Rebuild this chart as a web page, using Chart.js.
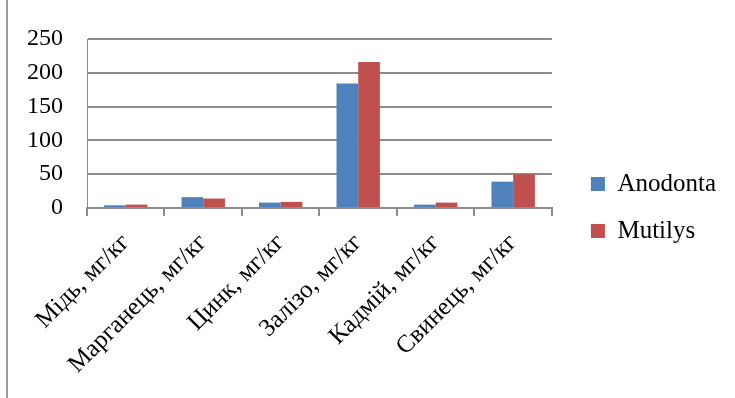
<!DOCTYPE html>
<html lang="uk">
<head>
<meta charset="UTF-8">
<title>Метали</title>
<script src="https://cdn.jsdelivr.net/npm/chart.js"></script>
<style>
    body {
        margin: 0;
        background: #fff;
    }
    #wrap {
        position: relative;
        width: 735px;
        height: 398px;
    }
    #frame {
        position: absolute;
        left: 6px;
        top: 0;
        width: 2px;
        height: 398px;
        background: #9a9a9a;
    }
</style>
</head>
<body>

<div id="wrap">
    <div id="frame"></div>
    <canvas id="myBarChart" width="735" height="398"></canvas>
</div>

<script>
// data
var categories = ['Мідь, мг/кг', 'Марганець, мг/кг', 'Цинк, мг/кг', 'Залізо, мг/кг', 'Кадмій, мг/кг', 'Свинець, мг/кг'];
var seriesNames = ['Anodonta', 'Mutilys'];
var anodonta = [4, 16, 8, 184, 5, 39];
var mutilys = [5, 14, 9, 216, 8, 50];
var yTicks = [0, 50, 100, 150, 200, 250];

var gridColor = '#8c8c8c';
var fontFamily = '"Liberation Serif", "Times New Roman", serif';

var ctx = document.getElementById('myBarChart').getContext('2d');
var myBarChart = new Chart(ctx, {
    type: 'bar',
    data: {
        labels: categories,
        datasets: [{
            label: seriesNames[0],
            data: anodonta,
            backgroundColor: '#4f81bd',
            categoryPercentage: 0.56,
            barPercentage: 1.0
        }, {
            label: seriesNames[1],
            data: mutilys,
            backgroundColor: '#c0504d',
            categoryPercentage: 0.56,
            barPercentage: 1.0
        }]
    },
    options: {
        responsive: false,
        animation: false,
        layout: {
            padding: { left: 3, top: 39, right: 9, bottom: 22 }
        },
        plugins: {
            tooltip: { enabled: false },
            legend: {
                position: 'right',
                maxWidth: 200,
                labels: {
                    boxWidth: 14,
                    boxHeight: 14,
                    padding: 22,
                    color: '#000',
                    font: { family: fontFamily, size: 25 }
                }
            }
        },
        scales: {
            x: {
                grid: {
                    offset: true,
                    drawOnChartArea: false,
                    drawTicks: true,
                    tickLength: 8,
                    color: gridColor,
                    lineWidth: 2
                },
                border: { color: gridColor, width: 2 },
                ticks: {
                    minRotation: 45,
                    maxRotation: 45,
                    padding: 12,
                    color: '#000',
                    font: { family: fontFamily, size: 25 }
                },
                afterFit: function (scale) {
                    scale.height = 168;
                }
            },
            y: {
                min: 0,
                max: 250,
                afterBuildTicks: function (scale) {
                    scale.ticks = yTicks.map(function (v) { return { value: v }; });
                },
                grid: {
                    drawTicks: false,
                    color: gridColor,
                    lineWidth: 2
                },
                border: { color: gridColor, width: 1 },
                ticks: {
                    padding: 24,
                    color: '#000',
                    font: { family: fontFamily, size: 24 }
                }
            },
            // empty right axis, only keeps the gap before the legend
            spacer: {
                axis: 'y',
                position: 'right',
                display: true,
                grid: { display: false, drawTicks: false },
                border: { display: false },
                ticks: { display: false },
                afterFit: function (scale) {
                    scale.width = 17;
                }
            }
        }
    }
});
</script>

</body>
</html>
